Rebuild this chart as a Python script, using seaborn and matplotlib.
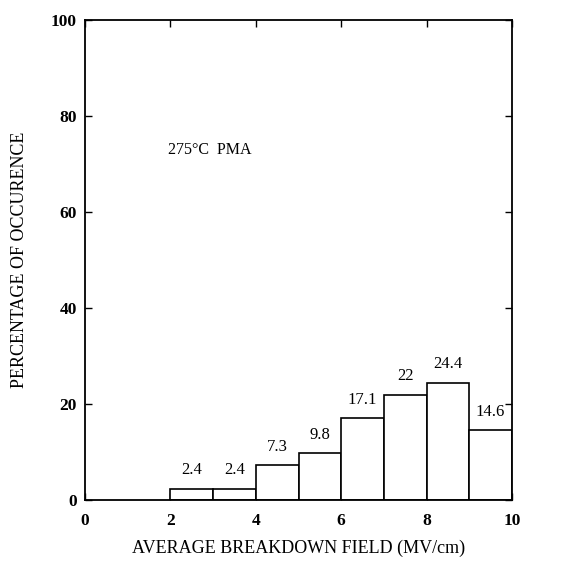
import matplotlib
matplotlib.use("Agg")
import matplotlib.pyplot as plt
import seaborn as sns
import numpy as np

bin_edges = [2, 3, 4, 5, 6, 7, 8, 9, 10]
percentages = [2.4, 2.4, 7.3, 9.8, 17.1, 22, 24.4, 14.6]
value_labels = ["2.4", "2.4", "7.3", "9.8", "17.1", "22", "24.4", "14.6"]
x_ticks = [0, 2, 4, 6, 8, 10]
y_ticks = [0, 20, 40, 60, 80, 100]

sns.set_theme(style="ticks")
plt.rcParams['font.family'] = ['Liberation Serif', 'DejaVu Serif']

fig = plt.figure(figsize=(5.67, 5.71), dpi=100)
ax = fig.add_axes([0.15, 0.124, 0.753, 0.841])

centers = [(a + b) / 2 for a, b in zip(bin_edges[:-1], bin_edges[1:])]
sns.histplot(x=centers, weights=percentages, bins=bin_edges, ax=ax,
             color="white", edgecolor="black", linewidth=1.2, alpha=1)

for c, v, lab in zip(centers, percentages, value_labels):
    ax.text(c, v + 2.2, lab, ha="center", va="bottom", fontsize=12, color="black")

ax.text(1.95, 73, "275°C  PMA", ha="left", va="center", fontsize=11.5, color="black")

ax.set_xlim(0, 10)
ax.set_ylim(0, 100)
ax.set_xticks(x_ticks)
ax.set_yticks(y_ticks)
ax.tick_params(direction="in", top=True, right=True, length=5, width=1,
               labelsize=12.5, colors="black")
ax.tick_params(axis="x", pad=9)
ax.tick_params(axis="y", pad=6)
for lab in ax.get_xticklabels() + ax.get_yticklabels():
    lab.set_fontweight("bold")
for s in ax.spines.values():
    s.set_linewidth(1.3)
    s.set_color("black")
ax.set_xlabel("AVERAGE BREAKDOWN FIELD (MV/cm)", fontsize=13, labelpad=8, color="black")
ax.set_ylabel("PERCENTAGE OF OCCURENCE", fontsize=13, labelpad=16, color="black")

fig.savefig("out.png", dpi=100)
